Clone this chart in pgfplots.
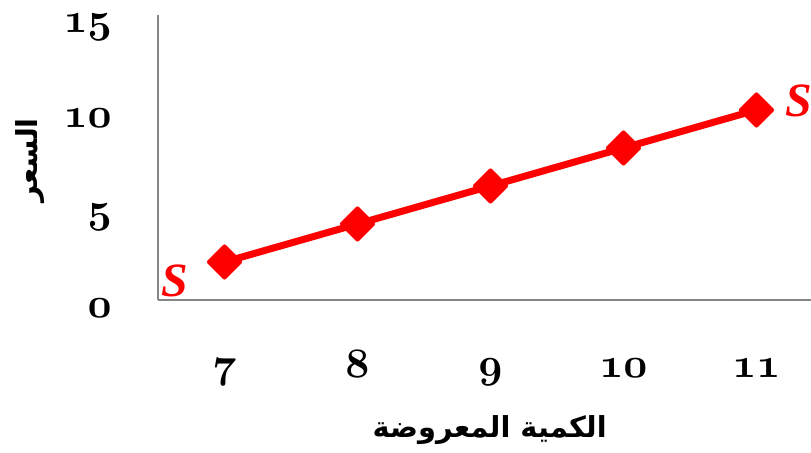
\documentclass[border=0pt]{standalone}
\usepackage{graphicx}
\usepackage{pgfplots}
\pgfplotsset{compat=1.18}
\usepackage{fontspec}
\setmainfont{Liberation Serif}
\newfontfamily\arabicfont[Script=Arabic]{DejaVu Sans}
\TeXXeTstate=1
\newcommand\osn[1]{\mbox{\scalebox{4.2}{\fontsize{10}{12}\usefont{OML}{cmm}{b}{it}#1}}}
\definecolor{axgray}{RGB}{134,134,134}
\begin{document}
\begin{tikzpicture}[x=1bp,y=1bp]
\clip (0,0) rectangle (811,453);
\begin{axis}[
  at={(158bp,153bp)}, anchor=south west,
  scale only axis, width=653bp, height=285bp,
  xmin=-0.5, xmax=4.41, ymin=0, ymax=15,
  axis x line*=bottom, axis y line*=left,
  axis line style={axgray, line width=1.3bp},
  xtick={0,1,2,3,4},
  xticklabels={\osn{7},\osn{8},\osn{9},\osn{10},\osn{11}},
  ytick={0,5,10,15},
  yticklabels={\osn{0},\osn{5},\osn{10},\osn{15}},
  major tick length=0pt,
  xticklabel style={anchor=base, inner sep=0pt, yshift=-78bp},
  yticklabel style={anchor=base east, inner sep=0pt, xshift=-46bp, yshift=-17.5bp},
  xlabel={\arabicfont\bfseries\fontsize{29}{32}\selectfont\beginR الكمية المعروضة\endR},
  ylabel={\arabicfont\bfseries\fontsize{29}{32}\selectfont\beginR السعر\endR},
  xlabel style={at={(axis description cs:0.508,-0.455)}, anchor=center},
  ylabel style={at={(axis description cs:-0.196,0.49)}, anchor=center, rotate=0},
  clip=false,
]
\addplot[red, line width=7bp, line join=round,
  mark=square*, mark size=11bp,
  mark options={rotate=45, line width=4bp, line join=round, fill=red, draw=red}]
  coordinates {(0,2) (1,4) (2,6) (3,8) (4,10)};
\node[text=red, font=\fontsize{48}{50}\selectfont\bfseries\itshape] at (axis cs:-0.372,1.0) {S};
\node[text=red, font=\fontsize{48}{50}\selectfont\bfseries\itshape, anchor=west, inner sep=0pt] at (axis cs:4.22,10.47) {S};
\end{axis}
\end{tikzpicture}
\end{document}
